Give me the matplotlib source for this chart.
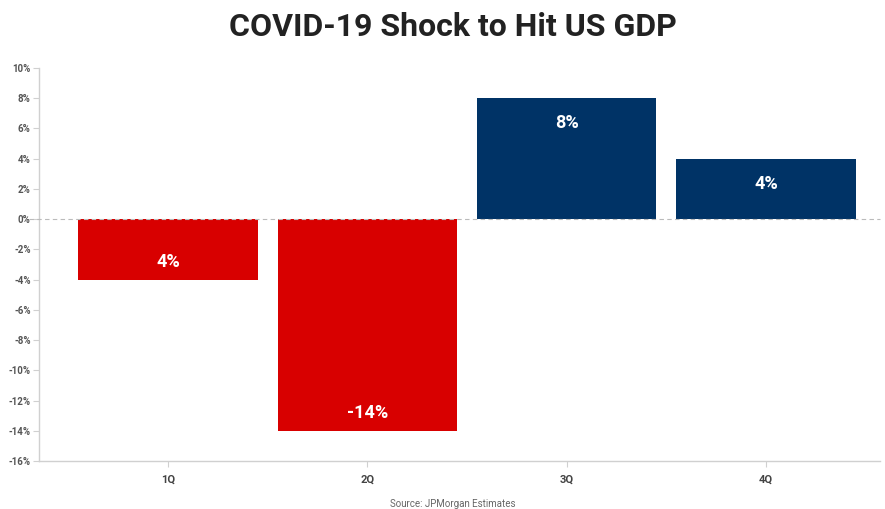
import matplotlib
matplotlib.use("Agg")
import matplotlib.pyplot as plt
import numpy as np

categories = ["1Q", "2Q", "3Q", "4Q"]
values = [-4, -14, 8, 4]
labels = ["4%", "-14%", "8%", "4%"]
yticks = list(range(-16, 11, 2))

fig = plt.figure(figsize=(8.85, 5.09), dpi=100)
ax = fig.add_axes([39/885, 1-461/509, (880-39)/885, (461-68)/509])

colors = ["#d80000" if v < 0 else "#003366" for v in values]
x = np.arange(len(categories))
bars = ax.bar(x, values, width=0.9, color=colors, zorder=2)

for xi, v, lab in zip(x, values, labels):
    off = -18 if v >= 0 else 13
    ax.annotate(lab, (xi, v), xytext=(0, off), textcoords="offset points",
                ha="center", va="center", color="white", fontsize=13,
                fontweight="bold", family="Roboto")

ax.axhline(0, color="#bbbbbb", lw=0.8, ls=(0, (4, 3)), zorder=3, xmin=-0.012, clip_on=False)

ax.set_xlim(-0.647, 3.571)
ax.set_ylim(-16, 10)
ax.set_yticks(yticks)
ax.set_yticklabels([f"{t}%" for t in yticks])
ax.set_xticks(x)
ax.set_xticklabels(categories)

for s in ["top", "right"]:
    ax.spines[s].set_visible(False)
for s in ["left", "bottom"]:
    ax.spines[s].set_color("#d0d0d0")
    ax.spines[s].set_linewidth(1.0)

ax.tick_params(axis="y", length=4, color="#d0d0d0", labelsize=7, labelcolor="#555555", pad=2)
ax.tick_params(axis="x", length=4, color="#d0d0d0", labelsize=8, labelcolor="#444444", pad=6)
for t in ax.get_yticklabels() + ax.get_xticklabels():
    t.set_fontweight("bold")
    t.set_family("Roboto")

fig.text(453/885, 1-27/509, "COVID-19 Shock to Hit US GDP", ha="center", va="center",
         fontsize=23, fontweight="bold", color="#222222", family="Roboto")
fig.text(453/885, 1-504/509, "Source: JPMorgan Estimates", ha="center", va="center",
         fontsize=7, color="#666666", family="Roboto")

fig.savefig("out.png", dpi=100)
